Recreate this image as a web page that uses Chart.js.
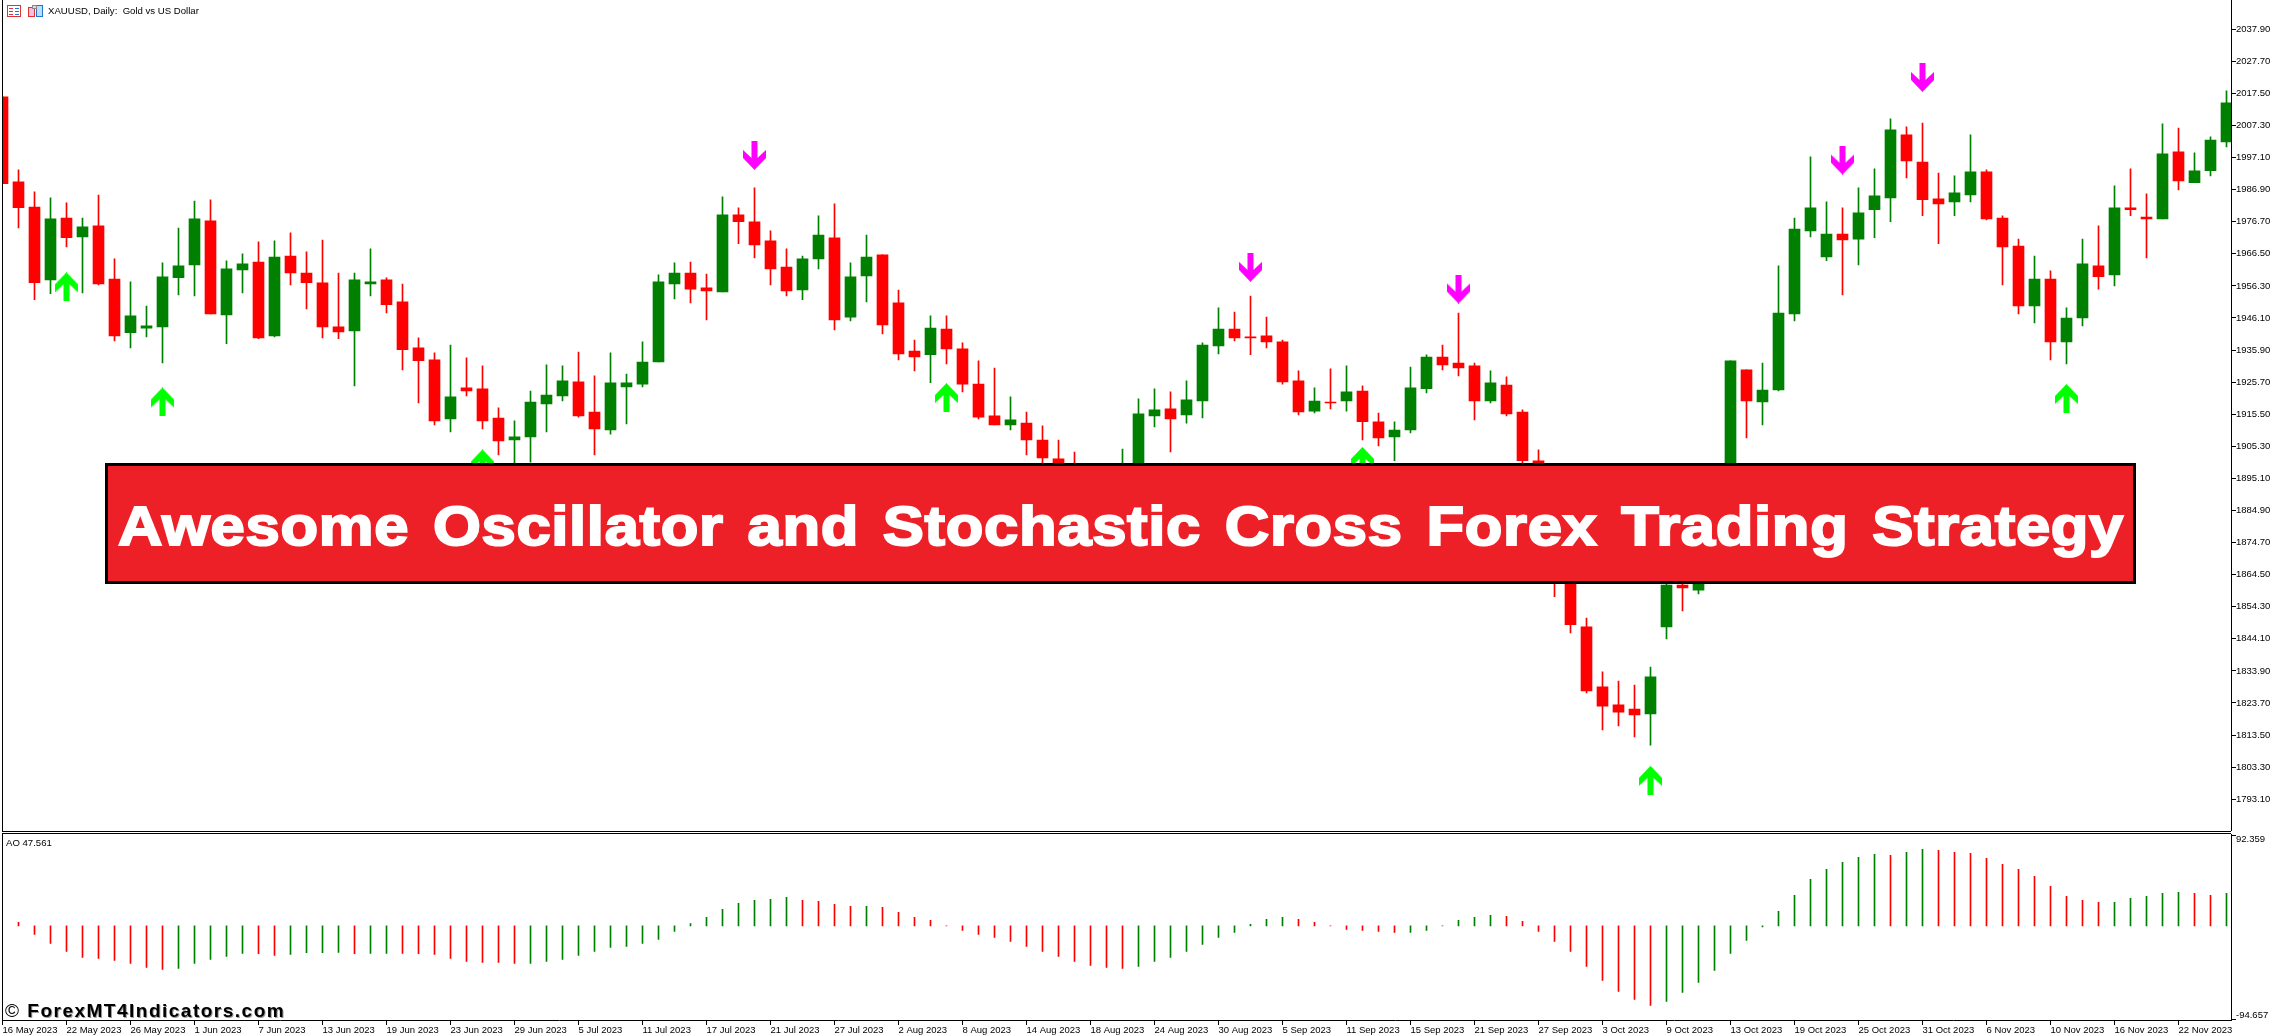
<!DOCTYPE html>
<html>
<head>
<meta charset="utf-8">
<title>XAUUSD Daily</title>
<script src="https://cdn.jsdelivr.net/npm/chart.js@4/dist/chart.umd.min.js"></script>
<style>
  html, body { margin: 0; padding: 0; background: #fff; overflow: hidden; }
  #page { position: relative; width: 2273px; height: 1035px; background: #fff; }
  canvas { position: absolute; left: 0; }
  #priceChart { top: 0; }
  #aoChart { top: 834px; }
  .sep { position: absolute; left: 2px; width: 2229px; height: 1px; background: #000; }
  .lbl { position: absolute; white-space: nowrap; color: #000; font: 9.6px "Liberation Sans", sans-serif; }
  #icons { position: absolute; left: 6px; top: 4px; }
  #banner { position: absolute; left: 105px; top: 463px; width: 2025px; height: 115px; background: #ED1F27; border: 3px solid #000; }
  #bannerText { position: absolute; left: 118px; top: 498px; white-space: nowrap; color: #fff;
    font: bold 56px/56px "Liberation Sans", Arial, sans-serif; -webkit-text-stroke: 2px #fff;
    letter-spacing: 0.6px; word-spacing: 5.5px; transform-origin: left top; transform: scaleX(1.1); }
  #mark { position: absolute; left: 5px; top: 1001px; white-space: nowrap; color: #000;
    font: bold 19px/20px "Liberation Sans", Arial, sans-serif; letter-spacing: 1.5px; text-shadow: 1px 1px 0 #999; }
  #mark span { font-weight: normal; text-shadow: none; }
</style>
</head>
<body>
<div id="page">
  <canvas id="priceChart" width="2273" height="831"></canvas>
  <canvas id="aoChart" width="2273" height="201"></canvas>
  <div class="sep" style="top:831px"></div>
  <div class="sep" style="top:833px"></div>
  <svg id="icons" width="40" height="14" viewBox="0 0 40 14">
    <rect x="1.5" y="1.5" width="13" height="11" fill="#fff" stroke="#d33"/>
    <path d="M3 4.5h4M3 7.5h4M3 10.5h4" stroke="#d33"/>
    <path d="M9 4.5h4M9 7.5h4M9 10.5h4" stroke="#27c"/>
    <rect x="22.5" y="3.5" width="6" height="9" fill="#fbd" stroke="#d33"/>
    <rect x="30.5" y="1.5" width="6" height="11" fill="#bdf" stroke="#27c"/>
    <rect x="26.5" y="1.5" width="4" height="3" fill="#ddd" stroke="#888"/>
  </svg>
  <div class="lbl" style="left:48px;top:5px">XAUUSD, Daily:&nbsp; Gold vs US Dollar</div>
  <div class="lbl" style="left:6px;top:837px">AO 47.561</div>
  <div id="banner"></div>
  <div id="bannerText">Awesome Oscillator and Stochastic Cross Forex Trading Strategy</div>
  <div id="mark"><span>©</span> ForexMT4Indicators.com</div>
</div>
<script>
// Date labels under the oscillator, one every 4 bars
const tickLabels = ["16 May 2023", "22 May 2023", "26 May 2023", "1 Jun 2023", "7 Jun 2023", "13 Jun 2023", "19 Jun 2023",
  "23 Jun 2023", "29 Jun 2023", "5 Jul 2023", "11 Jul 2023", "17 Jul 2023", "21 Jul 2023", "27 Jul 2023", "2 Aug 2023",
  "8 Aug 2023", "14 Aug 2023", "18 Aug 2023", "24 Aug 2023", "30 Aug 2023", "5 Sep 2023", "11 Sep 2023", "15 Sep 2023",
  "21 Sep 2023", "27 Sep 2023", "3 Oct 2023", "9 Oct 2023", "13 Oct 2023", "19 Oct 2023", "25 Oct 2023", "31 Oct 2023",
  "6 Nov 2023", "10 Nov 2023", "16 Nov 2023", "22 Nov 2023"];
const priceTicks = [2037.9, 2027.7, 2017.5, 2007.3, 1997.1, 1986.9, 1976.7, 1966.5, 1956.3, 1946.1, 1935.9, 1925.7, 1915.5,
  1905.3, 1895.1, 1884.9, 1874.7, 1864.5, 1854.3, 1844.1, 1833.9, 1823.7, 1813.5, 1803.3, 1793.1];
const aoTicks = [92.359, -94.657];

const opens = [2016.4, 1989.4, 1981.4, 1958.2, 1977.9, 1971.9, 1975.4, 1958.5, 1941.4, 1942.9,
  1943.3, 1958.9, 1963.0, 1977.0, 1947.1, 1961.4, 1963.9, 1940.4, 1965.8, 1960.4,
  1957.3, 1943.3, 1942.0, 1956.9, 1958.2, 1951.2, 1936.6, 1932.8, 1914.0, 1923.9,
  1923.6, 1914.3, 1907.3, 1908.3, 1918.8, 1921.3, 1925.8, 1916.2, 1910.5, 1924.2,
  1925.1, 1932.1, 1956.9, 1960.4, 1955.7, 1954.4, 1978.9, 1976.7, 1970.6, 1962.3,
  1955.0, 1964.9, 1971.6, 1946.4, 1959.5, 1966.2, 1950.9, 1935.6, 1934.4, 1942.6,
  1936.3, 1925.1, 1915.0, 1912.1, 1912.7, 1907.3, 1901.3, 1895.7, 1888.3, 1881.9,
  1886.1, 1890.4, 1915.0, 1917.2, 1915.3, 1919.7, 1937.2, 1942.6, 1940.1, 1940.4,
  1938.5, 1926.1, 1916.5, 1919.4, 1919.7, 1922.9, 1913.1, 1908.3, 1910.5, 1923.6,
  1933.7, 1931.8, 1930.9, 1919.7, 1924.8, 1916.2, 1900.7, 1888.3, 1864.9, 1847.9,
  1828.8, 1823.1, 1821.8, 1820.2, 1847.9, 1861.2, 1859.6, 1867.1, 1893.6, 1929.6,
  1919.4, 1923.2, 1947.4, 1973.8, 1965.5, 1972.8, 1971.2, 1980.5, 1984.3, 2004.3,
  1995.7, 1984.0, 1983.0, 1985.2, 1992.6, 1977.9, 1969.0, 1949.9, 1958.5, 1938.5,
  1946.1, 1962.7, 1959.8, 1981.1, 1978.2, 1977.6, 1998.9, 1989.1, 1992.9, 2002.1];
const highs = [2016.4, 1993.2, 1986.2, 1984.3, 1982.7, 1977.9, 1985.2, 1964.9, 1957.6, 1949.9,
  1963.6, 1974.7, 1983.3, 1983.7, 1964.3, 1966.5, 1970.3, 1970.6, 1973.2, 1967.1,
  1970.9, 1960.4, 1960.4, 1968.1, 1958.9, 1956.9, 1939.8, 1935.0, 1937.5, 1933.4,
  1930.9, 1917.5, 1913.4, 1922.9, 1931.2, 1930.9, 1935.3, 1927.7, 1935.0, 1928.3,
  1938.5, 1959.8, 1963.6, 1963.9, 1960.1, 1984.6, 1981.1, 1987.5, 1973.8, 1968.1,
  1965.8, 1978.6, 1982.4, 1963.6, 1972.5, 1966.2, 1955.0, 1939.1, 1946.8, 1946.8,
  1938.2, 1932.5, 1930.2, 1921.0, 1916.2, 1911.8, 1907.3, 1903.5, 1896.7, 1897.8,
  1904.4, 1920.4, 1923.6, 1922.6, 1926.1, 1938.2, 1949.3, 1948.0, 1953.1, 1946.4,
  1939.1, 1929.3, 1923.9, 1929.9, 1930.9, 1924.5, 1915.9, 1913.1, 1930.5, 1934.4,
  1937.5, 1947.7, 1931.8, 1929.3, 1927.4, 1916.9, 1904.2, 1890.4, 1868.1, 1850.7,
  1833.6, 1830.7, 1829.4, 1835.1, 1864.9, 1863.9, 1869.2, 1895.7, 1932.5, 1929.6,
  1931.8, 1962.7, 1977.9, 1997.3, 1983.0, 1981.1, 1987.5, 1993.5, 2009.4, 2006.9,
  2008.1, 1992.2, 1991.3, 2004.3, 1993.2, 1978.6, 1971.2, 1965.8, 1961.1, 1949.3,
  1971.2, 1975.4, 1988.1, 1993.5, 1985.6, 2007.8, 2006.5, 1998.6, 2003.7, 2018.3];
const lows = [1988.8, 1974.7, 1951.9, 1953.8, 1968.7, 1954.1, 1956.6, 1938.8, 1936.6, 1940.1,
  1931.8, 1953.4, 1953.1, 1947.4, 1937.9, 1954.1, 1939.5, 1940.1, 1956.6, 1949.0,
  1939.8, 1939.5, 1924.5, 1953.1, 1947.7, 1929.6, 1919.1, 1912.1, 1909.9, 1921.3,
  1910.8, 1902.6, 1898.9, 1900.3, 1909.9, 1919.7, 1914.6, 1902.6, 1909.2, 1912.4,
  1924.2, 1932.1, 1952.2, 1950.9, 1945.5, 1954.4, 1969.7, 1965.2, 1956.6, 1953.1,
  1951.9, 1961.7, 1942.3, 1945.2, 1951.2, 1941.0, 1932.8, 1929.3, 1925.5, 1931.5,
  1922.6, 1914.0, 1912.1, 1910.5, 1902.6, 1899.9, 1893.5, 1881.9, 1878.7, 1879.8,
  1883.0, 1888.3, 1911.5, 1903.5, 1912.7, 1914.3, 1934.7, 1938.8, 1934.4, 1936.6,
  1925.1, 1915.3, 1915.9, 1917.2, 1916.5, 1907.3, 1905.4, 1900.7, 1909.6, 1922.3,
  1929.6, 1927.7, 1913.7, 1919.1, 1915.0, 1898.9, 1884.0, 1857.5, 1846.0, 1826.9,
  1815.1, 1816.4, 1812.9, 1810.3, 1844.1, 1853.0, 1858.4, 1864.9, 1890.4, 1908.0,
  1912.1, 1922.9, 1945.2, 1971.9, 1964.3, 1953.4, 1963.0, 1971.6, 1976.7, 1990.6,
  1978.6, 1969.7, 1978.6, 1983.0, 1977.3, 1956.6, 1947.4, 1944.5, 1932.8, 1931.5,
  1943.6, 1955.3, 1956.3, 1978.6, 1965.2, 1977.6, 1986.8, 1989.1, 1991.3, 2000.5];
const closes = [1988.8, 1981.2, 1957.3, 1977.6, 1971.6, 1975.1, 1956.9, 1940.4, 1946.8, 1943.6,
  1959.2, 1962.7, 1977.6, 1947.4, 1961.7, 1963.3, 1939.8, 1965.5, 1960.4, 1957.3,
  1943.3, 1941.7, 1958.2, 1957.6, 1950.3, 1936.0, 1932.5, 1913.4, 1921.0, 1922.9,
  1913.4, 1907.0, 1908.3, 1919.4, 1921.6, 1926.1, 1915.0, 1910.8, 1925.5, 1925.5,
  1932.1, 1957.6, 1960.4, 1955.3, 1954.7, 1978.9, 1976.7, 1969.3, 1961.7, 1954.7,
  1964.9, 1972.5, 1945.5, 1959.2, 1965.5, 1943.9, 1934.7, 1933.7, 1942.9, 1936.3,
  1925.1, 1914.6, 1912.1, 1913.7, 1907.3, 1901.6, 1896.7, 1888.3, 1881.9, 1887.2,
  1896.7, 1915.6, 1916.9, 1914.0, 1920.1, 1937.5, 1942.6, 1939.8, 1939.8, 1938.5,
  1925.8, 1916.2, 1919.7, 1919.1, 1922.6, 1913.1, 1908.0, 1910.5, 1923.9, 1933.7,
  1931.2, 1930.2, 1919.7, 1925.5, 1915.6, 1900.7, 1888.3, 1864.9, 1848.6, 1827.5,
  1822.7, 1820.8, 1819.9, 1832.0, 1861.2, 1860.3, 1867.1, 1893.6, 1932.5, 1919.7,
  1923.2, 1947.7, 1974.4, 1981.1, 1972.8, 1970.9, 1979.5, 1984.9, 2005.9, 1996.0,
  1983.7, 1982.4, 1985.9, 1992.6, 1977.6, 1968.7, 1949.9, 1958.5, 1938.5, 1946.1,
  1963.3, 1959.2, 1981.1, 1980.5, 1977.6, 1998.3, 1989.7, 1992.9, 2002.7, 2014.5];

// Signal arrows: bar index + price where the arrow centre sits
const upBars = [4, 10, 30, 59, 85, 103, 129];
const upPrices = [1956.0, 1919.4, 1899.7, 1920.8, 1900.5, 1799.1, 1920.5];
const downBars = [47, 78, 91, 115, 120];
const downPrices = [1997.8, 1962.2, 1955.3, 1996.3, 2022.6];

// Awesome Oscillator, first bar has no value
const aoValues = [null, 3.6, -8.6, -17.8, -25.9, -32.0, -33.1, -35.1, -38.1, -42.2,
  -44.2, -43.2, -38.1, -34.1, -31.0, -28.0, -28.2, -30.0, -29.0, -27.3,
  -27.2, -27.0, -28.1, -28.0, -27.9, -28.0, -28.1, -29.0, -33.1, -36.1,
  -37.0, -37.1, -38.2, -38.1, -36.1, -34.1, -30.0, -25.9, -21.9, -20.8,
  -17.8, -13.7, -5.6, 2.5, 8.6, 16.8, 22.9, 25.9, 26.9, 29.0,
  25.9, 24.9, 21.9, 19.8, 19.9, 18.8, 13.7, 8.6, 5.6, 0,
  -4.6, -8.6, -11.7, -15.8, -20.8, -25.9, -31.0, -36.1, -40.2, -42.2,
  -43.2, -41.2, -36.1, -32.0, -25.9, -18.8, -11.7, -6.6, 1.5, 6.6,
  8.6, 6.6, 3.6, 0, -3.6, -4.6, -5.6, -6.6, -6.5, -4.6,
  0, 5.6, 8.6, 10.7, 9.7, 4.6, -5.6, -15.8, -25.9, -41.2,
  -55.4, -66.6, -74.7, -80.9, -76.8, -67.6, -57.5, -45.3, -28.0, -14.7,
  -1.0, 14.7, 31.0, 47.3, 57.5, 64.6, 69.7, 72.7, 71.7, 74.8,
  77.8, 76.8, 74.8, 73.7, 68.6, 62.5, 57.5, 50.3, 40.1, 30.0,
  25.9, 23.9, 24.0, 28.0, 30.0, 33.1, 34.1, 33.1, 31.0, 33.1];

const GREEN = "#008000", RED = "#FF0000";
const tickFont = { family: '"Liberation Sans", sans-serif', size: 9.5 };
const xMax = (2231 - 2.5) / 16;   // 16px per bar

// MT4 style arrow, drawn once and used as point image
function makeArrow(color, down) {
  const c = document.createElement("canvas");
  c.width = 23; c.height = 29;
  const g = c.getContext("2d");
  if (down) { g.translate(0, 29); g.scale(1, -1); }
  g.fillStyle = color;
  g.beginPath();
  [[11.5, 0], [23, 12], [23, 20], [14.5, 12], [14.5, 29], [8.5, 29], [8.5, 12], [0, 20], [0, 12]].forEach(p => g.lineTo(p[0], p[1]));
  g.closePath();
  g.fill();
  return c;
}

// Left frame line of a pane
const frameLine = {
  id: "frameLine",
  afterDraw(chart) {
    chart.ctx.fillStyle = "#000";
    chart.ctx.fillRect(2, 0, 1, chart.chartArea.bottom);
  }
};

// Right axis with a fixed width, labels must not eat into the pane
function fitRightAxis(s) {
  s.width = 42;
  s.paddingTop = 0;
  s.paddingBottom = 0;
}

const bars = opens.map((o, i) => i);

new Chart(document.getElementById("priceChart"), {
  type: "bar",
  plugins: [frameLine],
  data: {
    datasets: [
      {
        type: "scatter",
        data: upBars.map((b, i) => ({ x: b, y: upPrices[i] })),
        pointStyle: makeArrow("#00FF00", false)
      },
      {
        type: "scatter",
        data: downBars.map((b, i) => ({ x: b, y: downPrices[i] })),
        pointStyle: makeArrow("#FF00FF", true)
      },
      {
        grouped: false,
        barThickness: 11,
        backgroundColor: bars.map(i => closes[i] > opens[i] ? GREEN : RED),
        data: bars.map(i => ({ x: i, y: [opens[i], closes[i]] }))
      },
      {
        grouped: false,
        barThickness: 1,
        backgroundColor: bars.map(i => closes[i] > opens[i] ? GREEN : RED),
        data: bars.map(i => ({ x: i, y: [lows[i], highs[i]] }))
      }
    ]
  },
  options: {
    responsive: false,
    animation: false,
    events: [],
    layout: { autoPadding: false, padding: { left: 2.5 } },
    plugins: { legend: { display: false }, title: { display: false }, tooltip: { enabled: false } },
    scales: {
      x: { type: "linear", display: false, offset: false, min: 0, max: xMax, grid: { display: false, offset: false } },
      y: {
        position: "right",
        min: 1783.0,
        max: 2047.2,
        border: { color: "#000" },
        grid: { drawOnChartArea: false, color: "#000", tickLength: 5 },
        afterBuildTicks: s => { s.ticks = priceTicks.map(v => ({ value: v })); },
        afterFit: fitRightAxis,
        ticks: {
          autoSkip: false,
          color: "#000",
          padding: 0,
          font: tickFont,
          callback: v => v.toFixed(2)
        }
      }
    }
  }
});

new Chart(document.getElementById("aoChart"), {
  type: "bar",
  plugins: [frameLine],
  data: {
    datasets: [{
      barThickness: 1,
      backgroundColor: aoValues.map((v, i) => i > 1 && v > aoValues[i - 1] ? GREEN : RED),
      data: aoValues.map((v, i) => ({ x: i, y: v }))
    }]
  },
  options: {
    responsive: false,
    animation: false,
    events: [],
    layout: { autoPadding: false, padding: { left: 2.5 } },
    plugins: { legend: { display: false }, title: { display: false }, tooltip: { enabled: false } },
    scales: {
      x: {
        type: "linear",
        offset: false,
        min: 0,
        max: xMax,
        border: { color: "#000" },
        grid: { drawOnChartArea: false, offset: false, color: "#000", tickLength: 5 },
        afterBuildTicks: s => { s.ticks = tickLabels.map((t, k) => ({ value: k * 4 })); },
        afterFit: s => { s.height = 15; s.paddingLeft = 0; s.paddingRight = 0; },
        ticks: {
          autoSkip: false,
          maxRotation: 0,
          align: "start",
          color: "#000",
          padding: 0,
          font: tickFont,
          callback: v => tickLabels[v / 4]
        }
      },
      y: {
        position: "right",
        min: -95.6,
        max: 93.4,
        border: { color: "#000" },
        grid: { drawOnChartArea: false, color: "#000", tickLength: 5 },
        afterBuildTicks: s => { s.ticks = aoTicks.map(v => ({ value: v })); },
        afterFit: fitRightAxis,
        ticks: {
          autoSkip: false,
          color: "#000",
          padding: 0,
          font: { family: tickFont.family, size: 9.5, lineHeight: "8px" },
          // the two end labels sit inside the pane, so push them off the tick by a blank line
          callback: v => v > 0 ? ["", v.toFixed(3)] : [v.toFixed(3), ""]
        }
      }
    }
  }
});
</script>
</body>
</html>
